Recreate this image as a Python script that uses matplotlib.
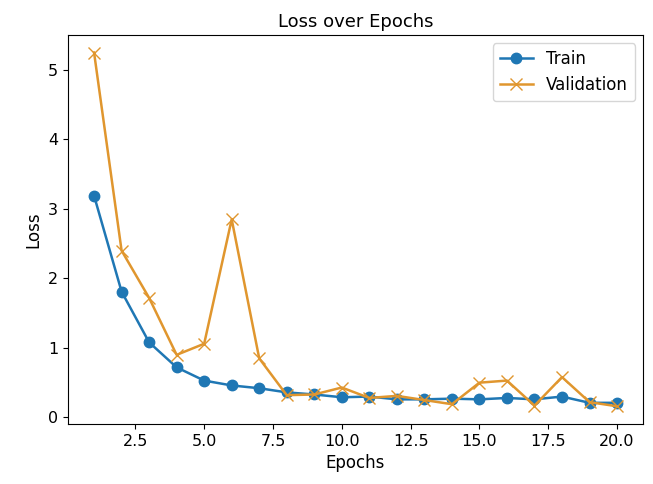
import matplotlib
matplotlib.use("Agg")
import matplotlib.pyplot as plt

epochs = list(range(1, 21))
train_loss = [3.19, 1.81, 1.08, 0.72, 0.53, 0.46, 0.42, 0.36, 0.33, 0.29,
              0.30, 0.26, 0.26, 0.27, 0.26, 0.28, 0.26, 0.30, 0.21, 0.21]
val_loss = [5.25, 2.40, 1.72, 0.90, 1.06, 2.85, 0.85, 0.32, 0.33, 0.43,
            0.28, 0.31, 0.25, 0.19, 0.50, 0.53, 0.17, 0.58, 0.22, 0.16]

plt.rcParams['font.size'] = 11.5
fig = plt.figure(figsize=(6.53, 4.84), dpi=100)
ax = fig.add_axes([0.104, 0.124, 0.881, 0.804])
ax.plot(epochs, train_loss, marker='o', color='#1f77b4', label='Train', markersize=7.5, linewidth=1.8)
ax.plot(epochs, val_loss, marker='x', color='#e0962e', label='Validation', markersize=8, linewidth=1.8)
ax.set_title('Loss over Epochs', fontsize=13)
ax.set_xlabel('Epochs', fontsize=12)
ax.set_ylabel('Loss', fontsize=12)
ax.set_xticks([2.5, 5.0, 7.5, 10.0, 12.5, 15.0, 17.5, 20.0])
ax.legend(loc='upper right', fontsize=12)
fig.savefig('out.png', dpi=100)
